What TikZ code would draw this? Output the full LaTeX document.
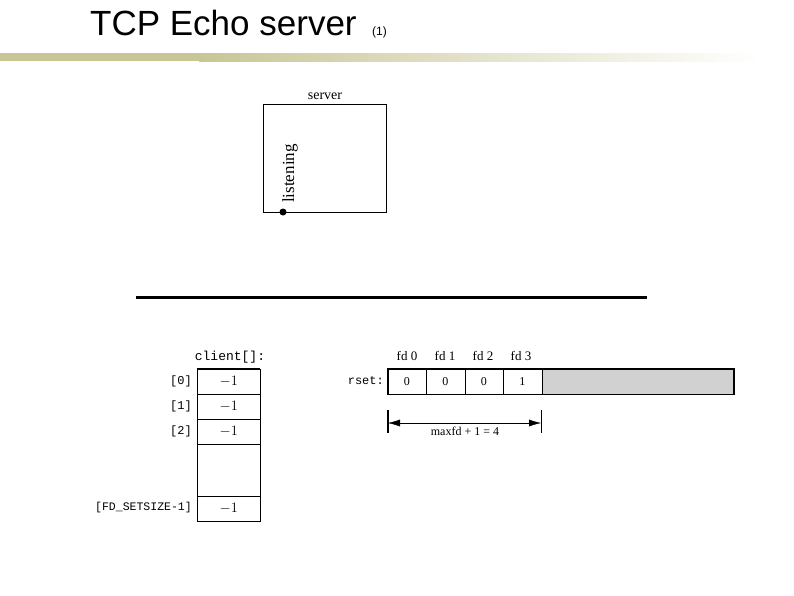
\documentclass[tikz,border=0pt]{standalone}
\usepackage{fontspec}
\setmainfont{Liberation Serif}
\setsansfont{Liberation Sans}
\setmonofont{Liberation Mono}
\usetikzlibrary{arrows.meta}
\definecolor{bar}{RGB}{200,198,150}
\begin{document}
\begin{tikzpicture}[x=1pt,y=-1pt,
  cell/.style={draw,minimum width=63pt,minimum height=25pt,inner sep=0pt,font=\fontsize{14}{16}\selectfont,anchor=north west},
  rcell/.style={draw,minimum width=38.5pt,minimum height=25pt,inner sep=0pt,font=\fontsize{12}{14}\selectfont,anchor=north west},
  lab/.style={font=\ttfamily\fontsize{12}{14}\selectfont,anchor=east,inner sep=1pt},
  fdl/.style={font=\fontsize{13}{15}\selectfont,inner sep=0pt}]
\useasboundingbox (0,0) rectangle (794,595);
\node[font=\sffamily\fontsize{35}{37}\selectfont,anchor=base west,inner sep=0pt] (title) at (90,35) {TCP Echo server};
\node[font=\sffamily\fontsize{12}{14}\selectfont,anchor=base west,inner sep=0pt] (num) at (372,35) {(1)};
\fill[bar] (0,53) rectangle (200,61);
\shade[left color=bar,right color=white,draw=none] (199,53) rectangle (760,61);
% server
\node[draw,thick,minimum width=123pt,minimum height=108pt,anchor=north west,inner sep=0pt] (srv) at (263,104) {};
\node[font=\fontsize{14}{16}\selectfont,anchor=south,inner sep=1pt] (srvl) at (325,101) {server};
\coordinate (dot) at (283,212);
\fill (dot) circle (3.5pt);
\node[rotate=90,anchor=west,font=\fontsize{17}{19}\selectfont,inner sep=0pt] (lst) at (290,203) {listening};
% rule
\draw[line width=3pt] (136,297) -- (647,297);
% client array
\node[font=\ttfamily\fontsize{13}{15}\selectfont,inner sep=0pt] (cl) at (230,357) {client[]:};
\node[cell] (c0) at (197,369) {$-1$};
\node[cell] (c1) at (197,394) {$-1$};
\node[cell] (c2) at (197,419) {$-1$};
\node[cell,minimum height=52pt] (cg) at (197,444) {};
\node[cell] (c3) at (197,496) {$-1$};
\draw[line width=1.6pt] (c0.north west) -- (c0.north east);
\draw[line width=1.6pt] (c3.south west) -- (c3.south east);
\node[lab] (l0) at (193,381) {[0]};
\node[lab] (l1) at (193,406) {[1]};
\node[lab] (l2) at (193,431) {[2]};
\node[lab,font=\ttfamily\fontsize{11.5}{13}\selectfont] (l3) at (193,508) {[FD\_SETSIZE-1]};
% rset
\node[font=\ttfamily\fontsize{12}{14}\selectfont,anchor=east,inner sep=1pt] (rs) at (385,381) {rset:};
\node[rcell] (r0) at (387.5,369) {0};
\node[rcell] (r1) at (426,369) {0};
\node[rcell] (r2) at (464.5,369) {0};
\node[rcell] (r3) at (503,369) {1};
\node[draw,fill=black!18,minimum width=192pt,minimum height=25pt,anchor=north west,inner sep=0pt] (rg) at (541.5,369) {};
\draw[line width=1.8pt] (r0.north west) rectangle (rg.south east);
\node[fdl] (f0) at (407,356) {fd 0};
\node[fdl] (f1) at (445,356) {fd 1};
\node[fdl] (f2) at (483,356) {fd 2};
\node[fdl] (f3) at (521,356) {fd 3};
% dimension
\coordinate (d0t) at (388,410); \coordinate (d0b) at (388,433);
\coordinate (d1t) at (541,410); \coordinate (d1b) at (541,433);
\draw[line width=1.5pt] (d0t) -- (d0b);
\draw (d1t) -- (d1b);
\coordinate (a0) at (388,423); \coordinate (a1) at (541,423);
\draw[{Latex[length=12pt,width=7pt]}-{Latex[length=12pt,width=7pt]}] (a0) -- (a1);
\node[font=\fontsize{12}{14}\selectfont,inner sep=0pt] (mx) at (465,431) {maxfd + 1 = 4};
\end{tikzpicture}
\end{document}
